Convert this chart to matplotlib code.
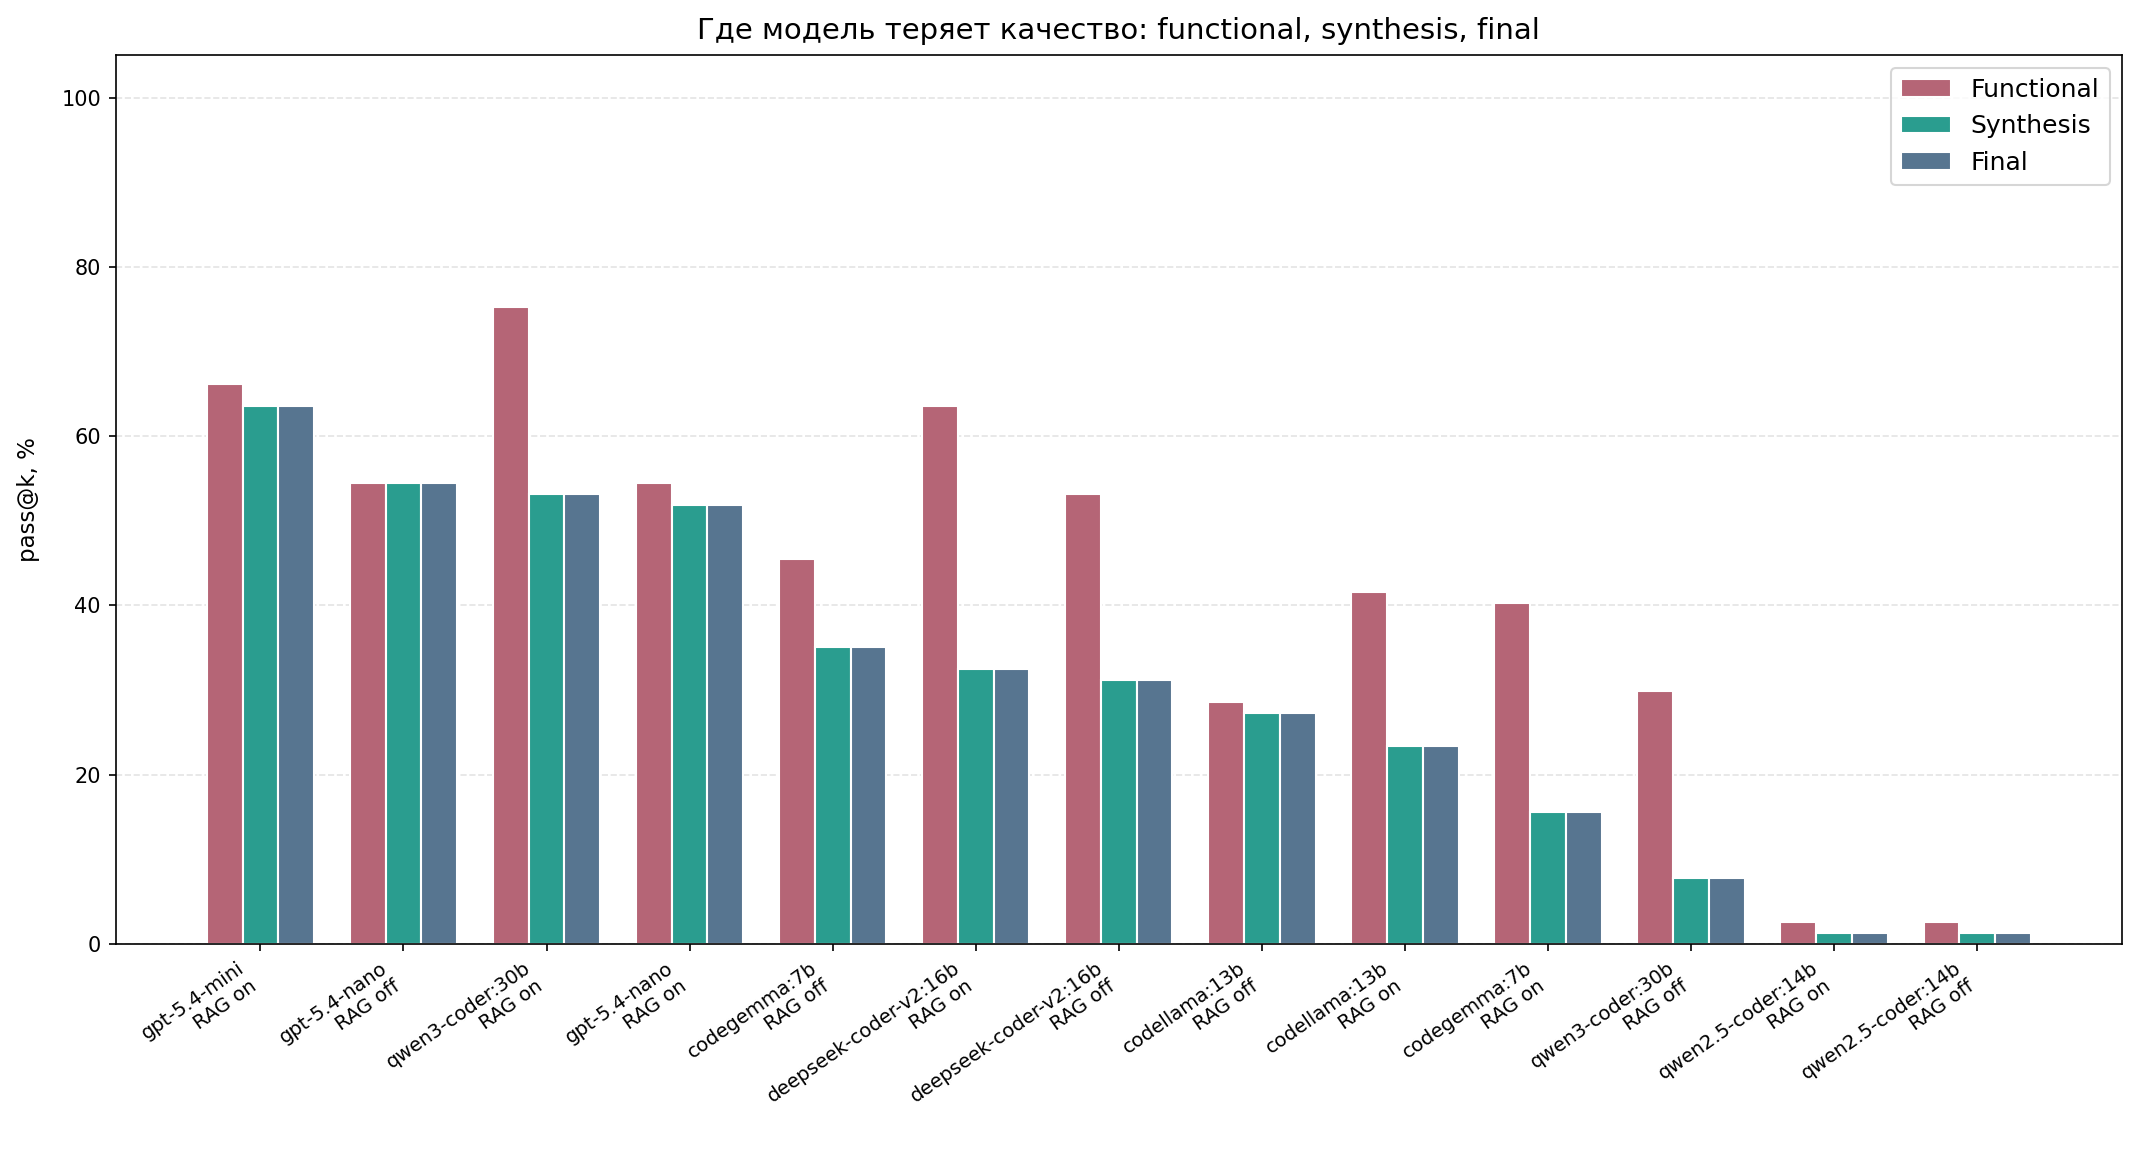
import matplotlib
matplotlib.use("Agg")
import matplotlib.pyplot as plt
import numpy as np

labels = [
    "gpt-5.4-mini\nRAG on", "gpt-5.4-nano\nRAG off", "qwen3-coder:30b\nRAG on",
    "gpt-5.4-nano\nRAG on", "codegemma:7b\nRAG off", "deepseek-coder-v2:16b\nRAG on",
    "deepseek-coder-v2:16b\nRAG off", "codellama:13b\nRAG off", "codellama:13b\nRAG on",
    "codegemma:7b\nRAG on", "qwen3-coder:30b\nRAG off", "qwen2.5-coder:14b\nRAG on",
    "qwen2.5-coder:14b\nRAG off",
]
functional = [66.2, 54.5, 75.3, 54.5, 45.5, 63.6, 53.2, 28.6, 41.6, 40.3, 29.9, 2.6, 2.6]
synthesis = [63.6, 54.5, 53.2, 51.9, 35.1, 32.5, 31.2, 27.3, 23.4, 15.6, 7.8, 1.3, 1.3]
final = [63.6, 54.5, 53.2, 51.9, 35.1, 32.5, 31.2, 27.3, 23.4, 15.6, 7.8, 1.3, 1.3]

series = [("Functional", functional, "#b56576"),
          ("Synthesis", synthesis, "#2a9d8f"),
          ("Final", final, "#577590")]

fig = plt.figure(figsize=(2140 / 150, 1151 / 150), dpi=150)
ax = fig.add_axes([0.054, 0.18, 0.9376, 0.772])

x = np.arange(len(labels))
w = 0.25
for i, (name, vals, col) in enumerate(series):
    ax.bar(x + (i - 1) * w, vals, width=w, color=col, edgecolor="white",
           linewidth=1.0, label=name)

ax.set_ylim(0, 105)
ax.set_yticks([0, 20, 40, 60, 80, 100])
ax.set_xticks(x)
ax.set_xticklabels(labels, rotation=35, ha="right", fontsize=9.4)
ax.tick_params(axis="y", labelsize=10)
ax.set_ylabel("pass@k, %", fontsize=11, labelpad=10)
ax.set_title("Где модель теряет качество: functional, synthesis, final", fontsize=14, pad=8)
ax.grid(axis="y", linestyle="--", color="#d9d9d9", alpha=0.7, linewidth=0.8)
ax.set_axisbelow(True)
ax.legend(loc="upper right", fontsize=12)

fig.savefig("out.png", dpi=150)
